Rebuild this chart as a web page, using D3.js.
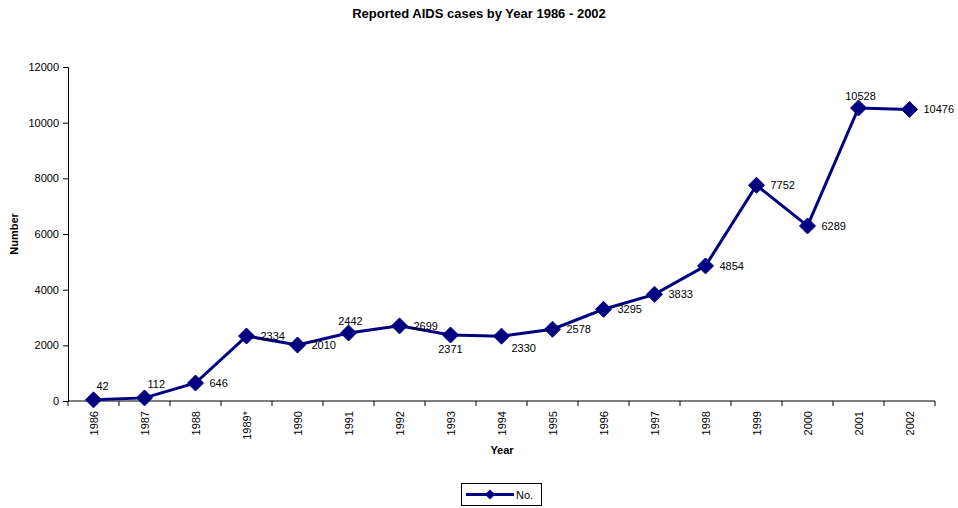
<!DOCTYPE html>
<html><head><meta charset="utf-8">
<script src="https://cdn.jsdelivr.net/npm/d3@7"></script>
<style>body{margin:0;background:#fff}text{font-family:"Liberation Sans",Arial,sans-serif}</style>
</head><body><svg id="c" width="958" height="508"></svg>
<script>
const years = ["1986","1987","1988","1989*","1990","1991","1992","1993","1994","1995","1996","1997","1998","1999","2000","2001","2002"];
const cases = [42,112,646,2334,2010,2442,2699,2371,2330,2578,3295,3833,4854,7752,6289,10528,10476];
const labelPos = ["tr","tr","r","r","r","t","r","b","br","r","r","r","r","r","r","t","r"];
const yTicks = [0,2000,4000,6000,8000,10000,12000];

const svg = d3.select("#c");
const m = {l:68, r:935, t:67, b:401};
const x = d3.scaleBand().domain(years).range([m.l, m.r]);
const y = d3.scaleLinear().domain([0,12000]).range([m.b, m.t]);
const cx = d => x(d) + x.bandwidth()/2;

svg.append("text").attr("x",479).attr("y",18).attr("text-anchor","middle")
  .attr("font-size",13).attr("font-weight","bold").text("Reported AIDS cases by Year 1986 - 2002");

// y axis
const ya = svg.append("g").attr("transform",`translate(${m.l},0)`)
  .call(d3.axisLeft(y).tickValues(yTicks).tickSize(5).tickPadding(4).tickFormat(d3.format("d")));
ya.select(".domain").attr("stroke","#000");
ya.selectAll("text").attr("font-size",11).attr("fill","#000").style("font-family","Liberation Sans, Arial, sans-serif");
ya.selectAll("line").attr("stroke","#000");

// x axis
const xa = svg.append("g").attr("transform",`translate(0,${m.b})`);
xa.append("line").attr("x1",m.l).attr("x2",m.r).attr("y1",0).attr("y2",0).attr("stroke","#000");
const bounds = years.map(d => x(d)).concat([m.r]);
xa.selectAll("line.tk").data(bounds).join("line").attr("class","tk")
  .attr("x1",d=>d).attr("x2",d=>d).attr("y1",0).attr("y2",5).attr("stroke","#000");
xa.selectAll("text.tl").data(years).join("text").attr("class","tl")
  .attr("transform",d=>`translate(${cx(d)+4},10) rotate(-90)`)
  .attr("text-anchor","end").attr("font-size",11).text(d=>d);

svg.append("text").attr("transform","translate(18,234) rotate(-90)").attr("text-anchor","middle")
  .attr("font-size",11).attr("font-weight","bold").text("Number");
svg.append("text").attr("x",502).attr("y",454).attr("text-anchor","middle")
  .attr("font-size",11).attr("font-weight","bold").text("Year");

const color = "#000080";
const line = d3.line().x((d,i)=>cx(years[i])).y(d=>y(d));
svg.append("path").datum(cases).attr("d",line).attr("fill","none").attr("stroke",color).attr("stroke-width",3);
const diamond = (px,py,r) => `M${px},${py-r}L${px+r},${py}L${px},${py+r}L${px-r},${py}Z`;
svg.selectAll("path.pt").data(cases).join("path").attr("class","pt")
  .attr("d",(d,i)=>diamond(cx(years[i]),y(d),8)).attr("fill",color).attr("stroke",color);

svg.selectAll("text.dl").data(cases).join("text").attr("class","dl")
  .attr("font-size",11).attr("fill","#000")
  .each(function(d,i){
    const px = cx(years[i]), py = y(d), p = labelPos[i], s = d3.select(this);
    if (p==="r") s.attr("x",px+14).attr("y",py+4).attr("text-anchor","start");
    else if (p==="tr") s.attr("x",px+3).attr("y",py-10).attr("text-anchor","start");
    else if (p==="t") s.attr("x",px+2).attr("y",py-8).attr("text-anchor","middle");
    else if (p==="b") s.attr("x",px).attr("y",py+18).attr("text-anchor","middle");
    else if (p==="br") s.attr("x",px+10).attr("y",py+16).attr("text-anchor","start");
  }).text(d=>d);

// legend
const lg = svg.append("g");
lg.append("rect").attr("x",461.5).attr("y",483.5).attr("width",80).attr("height",22).attr("fill","#fff").attr("stroke","#000");
lg.append("line").attr("x1",466).attr("x2",514).attr("y1",494.5).attr("y2",494.5).attr("stroke",color).attr("stroke-width",3);
lg.append("path").attr("d",diamond(490,494.5,5)).attr("fill",color);
lg.append("text").attr("x",516).attr("y",498.5).attr("font-size",11).text("No.");
</script></body></html>
